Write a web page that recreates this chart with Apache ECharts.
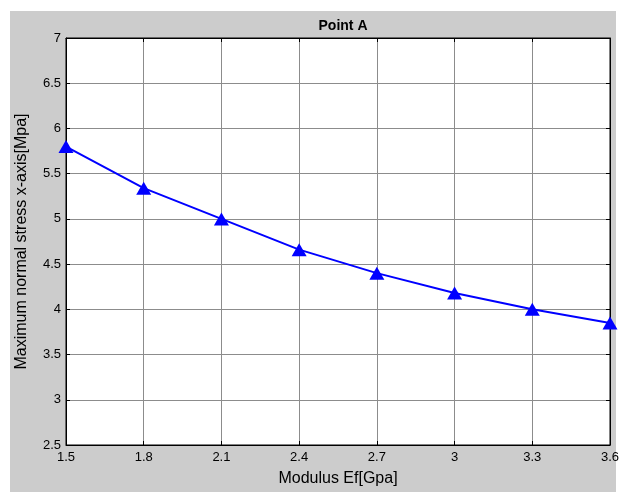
<!DOCTYPE html>
<html>
<head>
<meta charset="utf-8">
<script src="https://cdn.jsdelivr.net/npm/echarts@6/dist/echarts.min.js"></script>
<style>html,body{margin:0;padding:0;background:#fff;}#c{width:623px;height:492px;}</style>
</head>
<body>
<div id="c"></div>
<script>
const xValues = [1.5, 1.8, 2.1, 2.4, 2.7, 3.0, 3.3, 3.6];
const stressValues = [5.80, 5.34, 5.00, 4.66, 4.40, 4.18, 4.00, 3.85];
const titleText = 'Point A';
const xName = 'Modulus Ef[Gpa]';
const yName = 'Maximum normal stress x-axis[Mpa]';

const chart = echarts.init(document.getElementById('c'), null, {renderer: 'canvas'});
const font = 'Liberation Sans, Arial, sans-serif';
const fmtX = v => (Math.round(v * 10) / 10).toString();
const fmtY = v => (Math.round(v * 10) / 10).toString();
chart.setOption({
  backgroundColor: '#ffffff',
  animation: false,
  graphic: [{
    type: 'rect', z: -10, silent: true,
    shape: {x: 10, y: 11, width: 606, height: 481},
    style: {fill: '#cccccc'}
  }],
  title: {
    text: titleText, left: 338, top: 14, textAlign: 'center',
    textStyle: {fontFamily: font, fontSize: 14, fontWeight: 'bold', color: '#000'}
  },
  grid: {
    left: 66, right: 13, top: 38, bottom: 46,
    show: true, backgroundColor: '#ffffff', borderColor: '#000', borderWidth: 1
  },
  xAxis: [{
    type: 'value', min: 1.5, max: 3.6, interval: 0.3,
    name: xName, nameLocation: 'middle', nameGap: 26,
    nameTextStyle: {fontFamily: font, fontSize: 16, color: '#000'},
    axisLine: {show: true, lineStyle: {color: '#000', width: 1}},
    axisTick: {show: true, inside: true, length: 4, lineStyle: {color: '#000'}},
    axisLabel: {fontFamily: font, fontSize: 13, color: '#000', margin: 6, formatter: fmtX},
    splitLine: {show: true, lineStyle: {color: '#8c8c8c', width: 1}}
  }, {
    type: 'value', position: 'top', min: 1.5, max: 3.6, interval: 0.3,
    axisLine: {show: true, lineStyle: {color: '#000', width: 1}},
    axisTick: {show: true, inside: true, length: 4, lineStyle: {color: '#000'}},
    axisLabel: {show: false}, splitLine: {show: false}
  }],
  yAxis: [{
    type: 'value', min: 2.5, max: 7, interval: 0.5,
    name: yName, nameLocation: 'middle', nameGap: 36, nameRotate: 90,
    nameTextStyle: {fontFamily: font, fontSize: 16, color: '#000'},
    axisLine: {show: true, lineStyle: {color: '#000', width: 1}},
    axisTick: {show: true, inside: true, length: 4, lineStyle: {color: '#000'}},
    axisLabel: {fontFamily: font, fontSize: 13, color: '#000', margin: 5, formatter: fmtY},
    splitLine: {show: true, lineStyle: {color: '#8c8c8c', width: 1}}
  }, {
    type: 'value', position: 'right', min: 2.5, max: 7, interval: 0.5,
    axisLine: {show: true, lineStyle: {color: '#000', width: 1}},
    axisTick: {show: true, inside: true, length: 4, lineStyle: {color: '#000'}},
    axisLabel: {show: false}, splitLine: {show: false}
  }],
  series: [{
    type: 'line',
    data: xValues.map((x, i) => [x, stressValues[i]]),
    lineStyle: {color: '#0000ff', width: 2},
    itemStyle: {color: '#0000ff'},
    symbol: 'triangle', symbolSize: [15, 13],
    clip: false, z: 5
  }]
});
</script>
</body>
</html>
